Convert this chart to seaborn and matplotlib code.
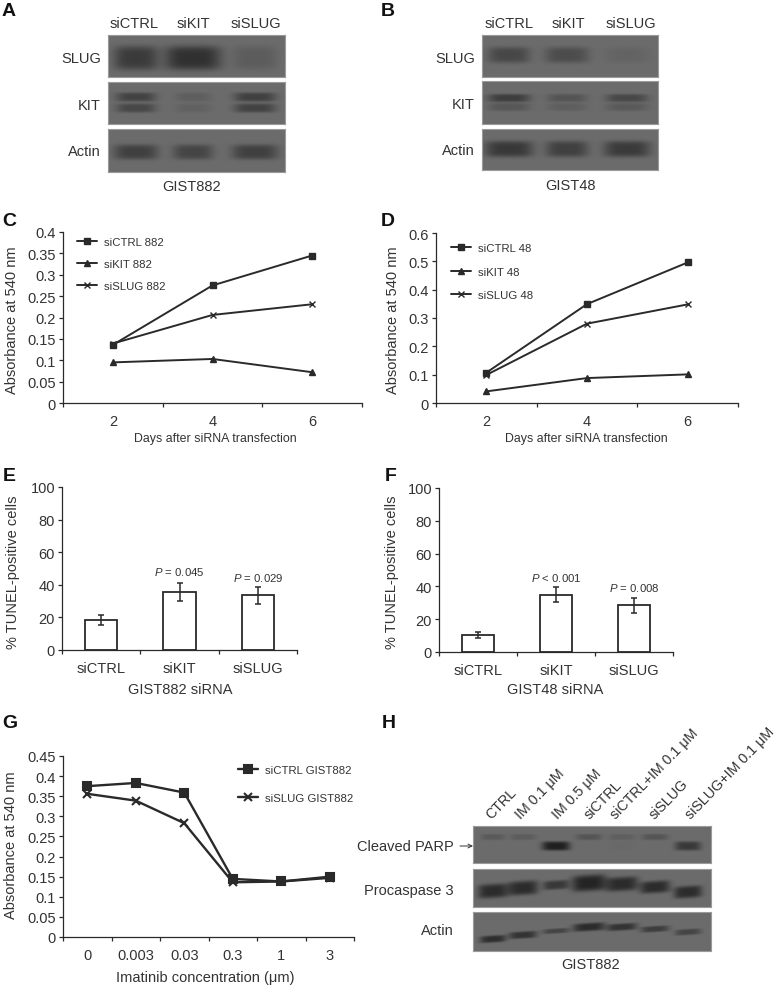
import numpy as np
import pandas as pd
import seaborn as sns
import matplotlib
import matplotlib.pyplot as plt

matplotlib.use('Agg')

# panels C, D
days = ['2', '4', '6']
c_series = ['siCTRL 882', 'siKIT 882', 'siSLUG 882']
c_ctrl = [0.136, 0.275, 0.345]
c_kit = [0.095, 0.103, 0.072]
c_slug = [0.139, 0.206, 0.231]
d_series = ['siCTRL 48', 'siKIT 48', 'siSLUG 48']
d_ctrl = [0.107, 0.349, 0.496]
d_kit = [0.041, 0.088, 0.101]
d_slug = [0.099, 0.280, 0.348]

# panels E, F
sirna = ['siCTRL', 'siKIT', 'siSLUG']
e_values = [18.5, 35.5, 33.5]
e_errors = [3, 5.5, 5]
e_pvals = ['', '= 0.045', '= 0.029']
f_values = [10.5, 35, 28.5]
f_errors = [2, 4.5, 4.5]
f_pvals = ['', '< 0.001', '= 0.008']

# panel G
conc = ['0', '0.003', '0.03', '0.3', '1', '3']
g_series = ['siCTRL GIST882', 'siSLUG GIST882']
g_ctrl = [0.375, 0.383, 0.359, 0.1445, 0.138, 0.150]
g_slug = [0.356, 0.339, 0.283, 0.136, 0.138, 0.147]

# blot band darkness, lane by lane
a_slug = [0.19, 0.23, 0.06]
a_kit_up = [0.16, 0.05, 0.17]
a_kit_low = [0.14, 0.04, 0.16]
a_actin = [0.17, 0.15, 0.17]
b_slug = [0.14, 0.12, 0.03]
b_kit_up = [0.18, 0.09, 0.14]
b_kit_low = [0.08, 0.05, 0.07]
b_actin = [0.20, 0.17, 0.19]
h_lanes = ['CTRL', 'IM 0.1 μM', 'IM 0.5 μM', 'siCTRL', 'siCTRL+IM 0.1 μM', 'siSLUG', 'siSLUG+IM 0.1 μM']
h_parp_up = [0.07, 0.06, 0, 0.09, 0.05, 0.09, 0]
h_parp_low = [0, 0, 0.30, 0, 0.01, 0, 0.20]
h_casp = [0.25, 0.25, 0.20, 0.28, 0.25, 0.25, 0.25]
h_actin = [0.24, 0.22, 0.15, 0.25, 0.22, 0.18, 0.15]

W, H = 782, 987
DARK = '#2a2a2a'
TEXT = '#333333'
BIG = 10.5
SMALL = 8.2

sns.set_theme(style='ticks', rc={
    'axes.edgecolor': DARK, 'axes.linewidth': 0.9,
    'xtick.color': DARK, 'ytick.color': DARK,
    'text.color': TEXT, 'axes.labelcolor': TEXT,
    'mathtext.fontset': 'custom', 'mathtext.it': 'Liberation Sans:italic',
    'mathtext.rm': 'Liberation Sans',
})
plt.rcParams['font.family'] = ['Liberation Sans', 'DejaVu Sans']

fig = plt.figure(figsize=(W / 100, H / 100), dpi=100, facecolor='white')


def px_axes(x0, y0, x1, y1):
    return fig.add_axes([x0 / W, 1 - y1 / H, (x1 - x0) / W, (y1 - y0) / H])


def label(x, y, s, size=BIG, ha='center', va='center', **kw):
    fig.text(x / W, 1 - y / H, s, fontsize=size, ha=ha, va=va, **kw)


def blot(box, bands, tilt=0.0):
    # bands: (centre x, centre y, half width, half height, darkness) in figure pixels
    x0, y0, x1, y1 = box
    xx, yy = np.meshgrid(np.arange(x0, x1) + 0.5, np.arange(y0, y1) + 0.5)
    img = np.full(xx.shape, 0.42)
    for cx, cy, hw, hh, dark in bands:
        yc = cy + tilt * (xx - cx)
        img -= dark * np.exp(-((xx - cx) / hw) ** 4 - ((yy - yc) / hh) ** 4)
    ax = px_axes(x0, y0, x1, y1)
    sns.heatmap(img, ax=ax, cmap='gray', vmin=0, vmax=1, cbar=False,
                xticklabels=False, yticklabels=False, rasterized=True)
    for s in ax.spines.values():
        s.set_visible(True)
        s.set_color('#9a9a9a')
        s.set_linewidth(0.8)
    return ax


def row(xs, y, hws, hh, darks):
    return [(x, y, w, hh, d) for x, w, d in zip(xs, hws, darks)]


def cat_axis(ax, labels, size=BIG, ypad=8):
    n = len(labels)
    ax.set_xlim(-0.5, n - 0.5)
    ax.set_xticks(range(n))
    ax.set_xticklabels(labels)
    ax.set_xticks(np.arange(n + 1) - 0.5, minor=True)
    ax.tick_params(axis='x', which='major', length=0, pad=ypad, labelsize=size, labelcolor=TEXT)
    ax.tick_params(axis='x', which='minor', length=3, width=0.9)
    ax.tick_params(axis='y', length=3, width=0.9, pad=2, labelsize=size, labelcolor=TEXT)
    ax.set_xlabel('')
    ax.set_ylabel('')
    sns.despine(ax=ax)
    ax.patch.set_alpha(0)


def line_panel(box, x, names, series, markers, ylim, yticks, ylabels, legend_at, spacing,
               lw=1.4, ms=5, mew=1.0):
    ax = px_axes(*box)
    for name, vals, m in zip(names, series, markers):
        sns.lineplot(x=x, y=vals, label=name, color=DARK, marker=m, linewidth=lw, markersize=ms,
                     markeredgecolor=DARK, markeredgewidth=mew, sort=False, ax=ax, clip_on=False)
    cat_axis(ax, x)
    ax.set_ylim(*ylim)
    ax.set_yticks(yticks)
    ax.set_yticklabels(ylabels)
    h, l = ax.get_legend_handles_labels()
    fx = (legend_at[0] - box[0]) / (box[2] - box[0])
    fy = 1 - (legend_at[1] - box[1]) / (box[3] - box[1])
    ax.legend(h, l, loc='upper left', bbox_to_anchor=(fx, fy), frameon=False, fontsize=SMALL,
              labelspacing=spacing, handlelength=1.75, handletextpad=0.6, borderpad=0, borderaxespad=0)
    return ax


def bar_panel(box, values, errors, pvals, pv_y):
    ax = px_axes(*box)
    df = pd.DataFrame({'siRNA': sirna, 'v': values})
    sns.barplot(data=df, x='siRNA', y='v', color='white', edgecolor=DARK, linewidth=1.3,
                width=0.41, errorbar=None, ax=ax)
    ax.errorbar(range(3), values, yerr=errors, fmt='none', ecolor=DARK, elinewidth=1.1,
                capsize=2, capthick=1.1)
    cat_axis(ax, sirna, ypad=8)
    ax.set_ylim(0, 100)
    ax.set_yticks(range(0, 101, 20))
    for i, p in enumerate(pvals):
        if p:
            ax.text(i, pv_y[i], f'$\\mathit{{P}}$ {p}', ha='center', va='center', fontsize=SMALL)
    return ax


# A
a_x = [136, 193, 255]
blot((108, 36, 285, 78), row(a_x, 59, [22, 28, 22], 12, a_slug))
blot((108, 83, 285, 125), row(a_x, 98, [20, 18, 21], 4.5, a_kit_up) + row(a_x, 109, [20, 18, 21], 4.5, a_kit_low))
blot((108, 130, 285, 173), row(a_x, 153, [22, 20, 23], 7.5, a_actin))
for x, s in zip([134, 193, 256], sirna):
    label(x, 24, s)
for y, s in zip([59, 106, 152], ['SLUG', 'KIT', 'Actin']):
    label(101, y, s, ha='right')
label(192, 187, 'GIST882')

# B
b_x = [509, 567, 627]
blot((482, 36, 658, 78), row(b_x, 56, [21, 22, 22], 8, b_slug))
blot((482, 82, 658, 125), row(b_x, 99, [21, 20, 21], 4, b_kit_up) + row(b_x, 108, [21, 20, 21], 4, b_kit_low))
blot((482, 130, 658, 171), row(b_x, 150, [24, 21, 23], 8, b_actin))
for x, s in zip([509, 568, 631], sirna):
    label(x, 24, s)
for y, s in zip([59, 105, 151], ['SLUG', 'KIT', 'Actin']):
    label(475, y, s, ha='right')
label(570, 186, 'GIST48')

# C
line_panel((63, 233, 362, 404), days, c_series, [c_ctrl, c_kit, c_slug], ['s', '^', 'x'],
           (0, 0.4), np.arange(0, 0.41, 0.05), ['0', '0.05', '0.1', '0.15', '0.2', '0.25', '0.3', '0.35', '0.4'],
           (77, 238), 1.05)
label(12, 320, 'Absorbance at 540 nm', rotation=90)
label(215, 439, 'Days after siRNA transfection', 8.9)

# D
line_panel((436, 234, 738, 404), days, d_series, [d_ctrl, d_kit, d_slug], ['s', '^', 'x'],
           (0, 0.6), np.arange(0, 0.61, 0.1), ['0', '0.1', '0.2', '0.3', '0.4', '0.5', '0.6'],
           (451, 244), 1.2)
label(393, 320, 'Absorbance at 540 nm', rotation=90)
label(586, 439, 'Days after siRNA transfection', 8.9)

# E, F
bar_panel((62, 488, 297, 651), e_values, e_errors, e_pvals, [0, 48.5, 45])
label(13, 572, '% TUNEL-positive cells', rotation=90)
label(180, 690, 'GIST882 siRNA')
bar_panel((439, 489, 673, 653), f_values, f_errors, f_pvals, [0, 45.5, 39.5])
label(392, 572, '% TUNEL-positive cells', rotation=90)
label(555, 690, 'GIST48 siRNA')

# G
line_panel((63, 757, 354, 938), conc, g_series, [g_ctrl, g_slug], ['s', 'x'],
           (0, 0.45), np.arange(0, 0.451, 0.05),
           ['0', '0.05', '0.1', '0.15', '0.2', '0.25', '0.3', '0.35', '0.4', '0.45'],
           (238, 766), 1.55, lw=1.7, ms=5.5, mew=1.5)
label(11, 845, 'Absorbance at 540 nm', rotation=90)
label(205, 978, 'Imatinib concentration (μm)')

# H
h_x = [493, 523, 556, 589, 622, 655, 688]
blot((473, 827, 711, 864),
     row(h_x, 838, [12, 13, 1, 13, 13, 13, 1], 3, h_parp_up) + row(h_x, 847, [12, 12, 14, 12, 12, 12, 13], 4.5, h_parp_low))
casp = [(x, y, w, hh, d) for x, y, w, hh, d in zip(h_x, [892, 889, 886, 884, 885, 888, 893],
                                                   [15, 15, 13, 17, 16, 15, 14], [7, 7, 4.5, 8, 7, 6, 6], h_casp)]
blot((473, 870, 711, 908), casp, tilt=-0.06)
act = [(x, y, w, hh, d) for x, y, w, hh, d in zip(h_x, [940, 936, 932, 928, 928, 930, 933],
                                                  [13, 14, 13, 16, 15, 14, 13], [3.5, 3.5, 2.5, 4, 3.5, 3, 3], h_actin)]
blot((473, 913, 711, 952), act, tilt=-0.06)
for x, s in zip([493, 523, 560, 592, 618, 657, 693], h_lanes):
    fig.text(x / W, 1 - 822 / H, s, fontsize=10.3, rotation=46, rotation_mode='anchor', ha='left', va='bottom')
for y, s in zip([847, 891, 931], ['Cleaved PARP', 'Procaspase 3', 'Actin']):
    label(454, y, s, ha='right')
label(591, 965, 'GIST882')
fig.patches.append(matplotlib.patches.FancyArrowPatch(
    (460 / W, 1 - 847 / H), (473 / W, 1 - 847 / H), transform=fig.transFigure, arrowstyle='->',
    mutation_scale=7, color=TEXT, linewidth=0.7, shrinkA=0, shrinkB=0))

# panel letters
for x, y, s in [(2, 12, 'A'), (381, 12, 'B'), (2, 222, 'C'), (381, 222, 'D'),
                (3, 477, 'E'), (385, 477, 'F'), (2, 724, 'G'), (382, 724, 'H')]:
    label(x, y, s, 14, ha='left', fontweight='bold', color='#111111')

fig.savefig('out.png', dpi=100)
